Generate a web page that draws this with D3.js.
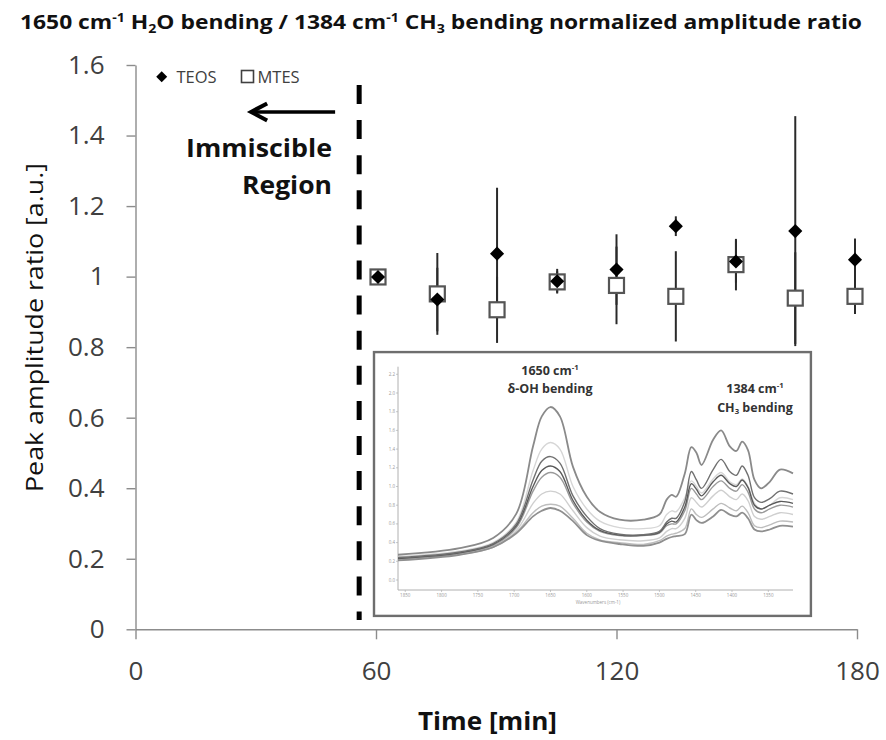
<!DOCTYPE html>
<html><head><meta charset="utf-8">
<script src="https://cdn.jsdelivr.net/npm/d3@7"></script>
<style>body{margin:0;background:#fff}svg{display:block}</style>
</head><body>
<svg id="c" width="886" height="740"></svg>
<script>
// ---------- main chart data ----------
const times    = [60.5, 75.3, 90.2, 105.2, 120, 134.8, 149.8, 164.6, 179.5];
const teos     = [0.999, 0.935, 1.065, 0.987, 1.020, 1.143, 1.043, 1.129, 1.048];
const teosErr  = [0.012, 0.090, 0.187, 0.035, 0.100, 0.028, 0.060, 0.326, 0.060];
const mtes     = [0.999, 0.951, 0.906, 0.985, 0.975, 0.944, 1.034, 0.939, 0.944];
const mtesErr  = [0.010, 0.116, 0.094, 0.030, 0.110, 0.128, 0.073, 0.130, 0.050];
const xTicks   = [0, 60, 120, 180];
const yTicks   = [0, 0.2, 0.4, 0.6, 0.8, 1.0, 1.2, 1.4, 1.6];
const seriesNames = ["TEOS", "MTES"];
const boundaryTime = 55.8;          // dashed line (immiscible region limit)
const arrowFrom = 49.8, arrowTo = 28.6, arrowLevel = 1.467;

// ---------- inset spectra data (absorbance vs wavenumber) ----------
const specWn = [1860,1775,1729,1697,1674,1662,1650,1637,1619,1600,1582,1555,1522,1500,1490,1483,1477,1465,1456,1449,1442,1426,1415,1403,1394,1386,1378,1369,1360,1348,1334,1316];
const spec1 = [0.27,0.34,0.45,0.71,1.43,1.75,1.85,1.75,1.21,0.89,0.73,0.645,0.645,0.70,0.86,0.91,0.89,1.14,1.42,1.36,1.23,1.50,1.60,1.43,1.38,1.48,1.39,1.07,0.98,1.05,1.18,1.14];
const spec2 = [0.25,0.31,0.40,0.62,1.17,1.40,1.47,1.40,1.00,0.76,0.63,0.56,0.55,0.58,0.70,0.74,0.73,0.88,1.06,1.00,0.93,1.08,1.15,1.05,1.02,1.08,1.00,0.82,0.76,0.80,0.88,0.86];
const spec3 = [0.24,0.30,0.39,0.60,1.07,1.27,1.32,1.25,0.90,0.68,0.55,0.49,0.485,0.52,0.62,0.66,0.66,0.84,1.16,1.07,0.98,1.18,1.29,1.16,1.12,1.22,1.12,0.88,0.83,0.87,0.95,0.92];
const spec4 = [0.23,0.29,0.38,0.58,1.00,1.17,1.22,1.16,0.85,0.64,0.53,0.48,0.48,0.51,0.60,0.63,0.62,0.78,1.03,0.97,0.90,1.05,1.12,1.03,1.00,1.07,0.99,0.80,0.76,0.80,0.84,0.82];
const spec5 = [0.23,0.29,0.37,0.56,0.95,1.10,1.15,1.10,0.82,0.62,0.52,0.475,0.475,0.50,0.58,0.60,0.60,0.74,0.98,0.92,0.86,1.00,1.06,0.98,0.95,1.02,0.94,0.76,0.72,0.76,0.80,0.78];
const spec6 = [0.22,0.28,0.36,0.53,0.82,0.92,0.95,0.92,0.74,0.56,0.47,0.43,0.42,0.45,0.52,0.55,0.55,0.66,0.88,0.83,0.78,0.90,0.96,0.89,0.86,0.92,0.85,0.68,0.65,0.68,0.72,0.70];
const spec7 = [0.215,0.275,0.35,0.51,0.72,0.79,0.81,0.79,0.66,0.50,0.43,0.40,0.38,0.42,0.47,0.49,0.50,0.55,0.76,0.70,0.67,0.76,0.82,0.77,0.74,0.79,0.72,0.58,0.56,0.59,0.63,0.62];
const spec8 = [0.21,0.27,0.35,0.50,0.68,0.74,0.77,0.74,0.63,0.48,0.42,0.385,0.365,0.40,0.44,0.46,0.47,0.49,0.70,0.64,0.61,0.68,0.75,0.70,0.68,0.72,0.66,0.54,0.52,0.54,0.58,0.57];
const specColors = ["#8a8a8a","#d6d6d6","#707070","#5a5a5a","#9a9a9a","#cfcfcf","#bdbdbd","#8f8f8f"];
const specWnTicks = [1850,1800,1750,1700,1650,1600,1550,1500,1450,1400,1350];
const specATicks  = [0,0.2,0.4,0.6,0.8,1.0,1.2,1.4,1.6,1.8,2.0,2.2];

// ---------- layout ----------
const svg = d3.select("#c");
const FONT = "'Open Sans', 'DejaVu Sans', sans-serif";
const x = d3.scaleLinear().domain([0, 180]).range([135.5, 857]);
const y = d3.scaleLinear().domain([0, 1.6]).range([629.3, 65]);
const fmt = d => String(+d.toFixed(1));

// rich text helper (sup/sub)
function rich(sel, parts, size) {
  let off = 0;
  parts.forEach(p => {
    const t = sel.append("tspan").text(p.t);
    let target = 0;
    if (p.s === "sup") { target = -0.38 * size; t.attr("font-size", size * 0.62); }
    else if (p.s === "sub") { target = 0.22 * size; t.attr("font-size", size * 0.62); }
    if (target !== off) { t.attr("dy", target - off); off = target; }
  });
}

// title
const title = svg.append("text")
  .attr("x", 20).attr("y", 29)
  .attr("font-family", FONT).attr("font-weight", "bold").attr("font-size", 19)
  .attr("fill", "#111")
  .attr("textLength", 842).attr("lengthAdjust", "spacingAndGlyphs");
rich(title, [
  {t:"1650 cm"},{t:"-1",s:"sup"},{t:" H"},{t:"2",s:"sub"},{t:"O bending / 1384 cm"},{t:"-1",s:"sup"},
  {t:" CH"},{t:"3",s:"sub"},{t:" bending normalized  amplitude  ratio"}], 19);

// axes
const axisColor = "#8c8c8c";
const gy = svg.append("g").attr("transform", `translate(${x(0)},0)`)
  .call(d3.axisLeft(y).tickValues(yTicks).tickFormat(fmt).tickSize(9).tickSizeOuter(0).tickPadding(22));
const gx = svg.append("g").attr("transform", `translate(0,${y(0)})`)
  .call(d3.axisBottom(x).tickValues(xTicks).tickSize(10).tickSizeOuter(0).tickPadding(22));
[gx, gy].forEach(g => {
  g.select(".domain").attr("stroke", axisColor).attr("stroke-width", 1.4);
  g.selectAll(".tick line").attr("stroke", axisColor).attr("stroke-width", 1.4);
  g.selectAll(".tick text").attr("font-family", FONT).attr("font-size", 26).attr("fill", "#404040");
});

// axis titles
svg.append("text").attr("x", 487.5).attr("y", 730).attr("text-anchor", "middle")
  .attr("font-family", FONT).attr("font-weight", "bold").attr("font-size", 25.5).attr("fill", "#111")
  .attr("textLength", 139).attr("lengthAdjust", "spacingAndGlyphs")
  .text("Time [min]");
svg.append("text").attr("transform", "translate(43,327.5) rotate(-90)").attr("text-anchor", "middle")
  .attr("font-family", FONT).attr("font-size", 24.5).attr("fill", "#111")
  .attr("textLength", 329).attr("lengthAdjust", "spacingAndGlyphs")
  .text("Peak amplitude ratio [a.u.]");

// dashed boundary
svg.append("line").attr("x1", x(boundaryTime)).attr("x2", x(boundaryTime))
  .attr("y1", 85).attr("y2", 620).attr("stroke", "#000").attr("stroke-width", 5)
  .attr("stroke-dasharray", "19,16.1");

// arrow + annotation
const ay = y(arrowLevel);
svg.append("line").attr("x1", x(arrowFrom)).attr("x2", x(arrowTo) + 2).attr("y1", ay).attr("y2", ay)
  .attr("stroke", "#000").attr("stroke-width", 3.5);
svg.append("path")
  .attr("d", `M${x(arrowTo) + 17},${ay - 8.5} L${x(arrowTo) + 1},${ay} L${x(arrowTo) + 17},${ay + 8.5}`)
  .attr("fill", "none").attr("stroke", "#000").attr("stroke-width", 4);
svg.append("text").attr("x", 332).attr("y", 157.3).attr("text-anchor", "end")
  .attr("font-family", FONT).attr("font-weight", "bold").attr("font-size", 25).attr("fill", "#111")
  .attr("textLength", 146).attr("lengthAdjust", "spacingAndGlyphs")
  .text("Immiscible");
svg.append("text").attr("x", 332).attr("y", 193.5).attr("text-anchor", "end")
  .attr("font-family", FONT).attr("font-weight", "bold").attr("font-size", 25).attr("fill", "#111")
  .attr("textLength", 90).attr("lengthAdjust", "spacingAndGlyphs")
  .text("Region");

// legend
const diamondType = { draw(ctx, size) { const r = Math.sqrt(size) / 2; ctx.moveTo(0,-r); ctx.lineTo(r,0); ctx.lineTo(0,r); ctx.lineTo(-r,0); ctx.closePath(); } };
const leg = svg.append("g");
leg.append("path").attr("transform", "translate(161.7,76.7)")
  .attr("d", d3.symbol().type(diamondType).size(120)()).attr("fill", "#000");
leg.append("text").attr("x", 176.5).attr("y", 83).attr("font-family", FONT).attr("font-size", 16.5)
  .attr("fill", "#404040").text(seriesNames[0]);
leg.append("rect").attr("x", 241.5).attr("y", 70.5).attr("width", 12).attr("height", 12)
  .attr("fill", "#fff").attr("stroke", "#404040").attr("stroke-width", 1.6);
leg.append("text").attr("x", 257.5).attr("y", 83).attr("font-family", FONT).attr("font-size", 16.5)
  .attr("fill", "#404040").text(seriesNames[1]);

// inset (spectra)
const inset = { x0: x(59.5), y0: y(0.786), x1: x(168.5), y1: y(0.038) };
const ig = svg.append("g");
ig.append("rect").attr("x", inset.x0).attr("y", inset.y0)
  .attr("width", inset.x1 - inset.x0).attr("height", inset.y1 - inset.y0)
  .attr("fill", "#fff").attr("stroke", "#6e6e6e").attr("stroke-width", 2.4);
const sx = d3.scaleLinear().domain([1860, 1316]).range([398, 793]);
const sy = d3.scaleLinear().domain([0, 2.2]).range([580, 374.3]);
const iaxisColor = "#b0b0b0";
ig.append("line").attr("x1", sx(1860)).attr("x2", sx(1316)).attr("y1", 590).attr("y2", 590)
  .attr("stroke", iaxisColor).attr("stroke-width", 1);
ig.append("line").attr("x1", sx(1860)).attr("x2", sx(1860)).attr("y1", 366.7).attr("y2", 590)
  .attr("stroke", iaxisColor).attr("stroke-width", 1);
ig.selectAll(".ixt").data(specWnTicks).join("text").attr("class", "ixt")
  .attr("x", d => sx(d)).attr("y", 597).attr("text-anchor", "middle")
  .attr("font-family", FONT).attr("font-size", 4.5).attr("fill", "#999").text(d => d);
ig.selectAll(".ixl").data(specWnTicks).join("line").attr("class", "ixl")
  .attr("x1", d => sx(d)).attr("x2", d => sx(d)).attr("y1", 590).attr("y2", 592)
  .attr("stroke", iaxisColor).attr("stroke-width", 0.7);
ig.selectAll(".iyt").data(specATicks).join("text").attr("class", "iyt")
  .attr("x", 395).attr("y", d => sy(d) + 1.5).attr("text-anchor", "end")
  .attr("font-family", FONT).attr("font-size", 4.5).attr("fill", "#999").text(d => d.toFixed(1));
ig.selectAll(".iyl").data(specATicks).join("line").attr("class", "iyl")
  .attr("x1", 396).attr("x2", 398).attr("y1", d => sy(d)).attr("y2", d => sy(d))
  .attr("stroke", iaxisColor).attr("stroke-width", 0.7);
ig.append("text").attr("x", 598).attr("y", 604).attr("text-anchor", "middle")
  .attr("font-family", FONT).attr("font-size", 4.5).attr("fill", "#999").text("Wavenumbers (cm-1)");

const specs = [spec2, spec6, spec7, spec5, spec1, spec8, spec4, spec3];
const specCol = [specColors[1], specColors[5], specColors[6], specColors[4], specColors[0], specColors[7], specColors[3], specColors[2]];
const line = d3.line().x((d, i) => sx(specWn[i])).y(d => sy(d)).curve(d3.curveCatmullRom.alpha(0.5));
specs.forEach((s, k) => {
  ig.append("path").attr("d", line(s)).attr("fill", "none")
    .attr("stroke", specCol[k]).attr("stroke-width", k === 4 || k === 5 ? 1.8 : 1.4);
});
const l1 = ig.append("text").attr("x", 550).attr("y", 375).attr("text-anchor", "middle")
  .attr("font-family", FONT).attr("font-weight", "bold").attr("font-size", 12.5).attr("fill", "#333");
rich(l1, [{t:"1650 cm"},{t:"-1",s:"sup"}], 12.5);
ig.append("text").attr("x", 550).attr("y", 393).attr("text-anchor", "middle")
  .attr("font-family", FONT).attr("font-weight", "bold").attr("font-size", 12.5).attr("fill", "#333")
  .text("δ-OH bending");
const l2 = ig.append("text").attr("x", 755).attr("y", 393).attr("text-anchor", "middle")
  .attr("font-family", FONT).attr("font-weight", "bold").attr("font-size", 12.5).attr("fill", "#333");
rich(l2, [{t:"1384 cm"},{t:"-1",s:"sup"}], 12.5);
const l3 = ig.append("text").attr("x", 755).attr("y", 411.5).attr("text-anchor", "middle")
  .attr("font-family", FONT).attr("font-weight", "bold").attr("font-size", 12.5).attr("fill", "#333");
rich(l3, [{t:"CH"},{t:"3",s:"sub"},{t:" bending"}], 12.5);

// error bars (both series), then markers
const errData = [];
times.forEach((t, i) => {
  errData.push({t, v: mtes[i], e: mtesErr[i]});
  errData.push({t, v: teos[i], e: teosErr[i]});
});
svg.append("g").selectAll("line").data(errData).join("line")
  .attr("x1", d => x(d.t)).attr("x2", d => x(d.t))
  .attr("y1", d => y(d.v - d.e)).attr("y2", d => y(d.v + d.e))
  .attr("stroke", "#2a2a2a").attr("stroke-width", 2);

svg.append("g").selectAll("rect").data(times).join("rect")
  .attr("x", (d) => x(d) - 7.5).attr("y", (d, i) => y(mtes[i]) - 7.5)
  .attr("width", 15).attr("height", 15)
  .attr("fill", "#fff").attr("stroke", "#555").attr("stroke-width", 2.2);

svg.append("g").selectAll("path").data(times).join("path")
  .attr("transform", (d, i) => `translate(${x(d)},${y(teos[i])})`)
  .attr("d", d3.symbol().type(diamondType).size(200)())
  .attr("fill", "#000");
</script>
</body></html>
